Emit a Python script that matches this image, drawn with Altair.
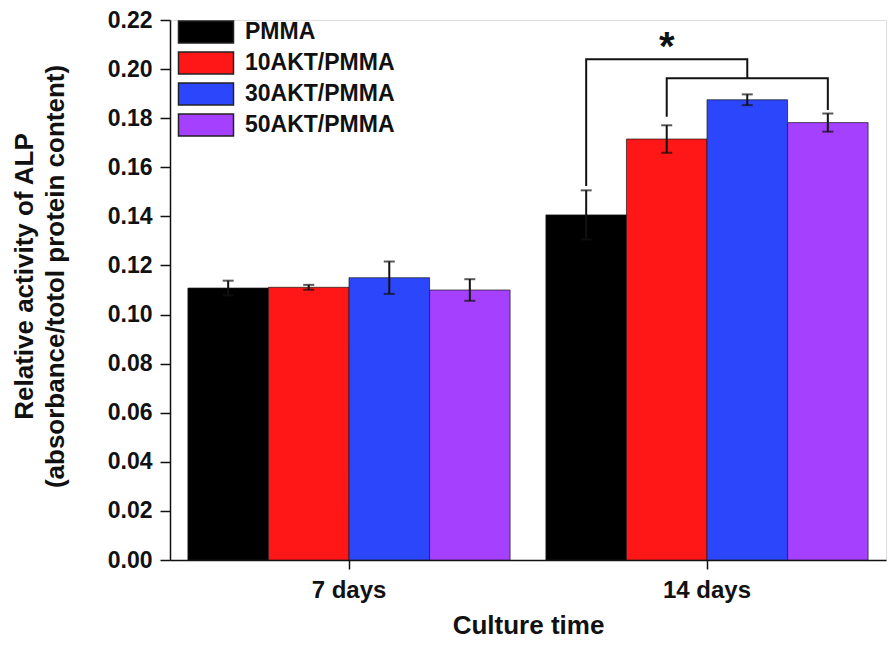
import altair as alt
import pandas as pd

# ---- data ----
days = ["7 days", "14 days"]
groups = ["PMMA", "10AKT/PMMA", "30AKT/PMMA", "50AKT/PMMA"]
colors = ["#000000", "#ff1616", "#2b46fb", "#a640ff"]

mean_7 = [0.1108, 0.1111, 0.1150, 0.1100]
err_7 = [0.0030, 0.0010, 0.0066, 0.0044]
mean_14 = [0.1406, 0.1715, 0.1875, 0.1782]
err_14 = [0.0100, 0.0056, 0.0022, 0.0037]

# significance brackets (14 days)
brk_id = [1, 1, 1, 1, 2, 2, 2, 2]
brk_order = [0, 1, 2, 3, 0, 1, 2, 3]
brk_group = ["PMMA", "PMMA", "30AKT/PMMA", "30AKT/PMMA",
             "10AKT/PMMA", "10AKT/PMMA", "50AKT/PMMA", "50AKT/PMMA"]
brk_y = [0.1524, 0.2040, 0.2040, 0.1963, 0.1806, 0.1963, 0.1963, 0.1833]

star_day = ["14 days"]
star_group = ["10AKT/PMMA"]
star_y = [0.2094]
star_text = ["*"]

y_ticks = [round(i * 0.01, 2) for i in range(0, 23)]

FONT = "Liberation Sans"

rows = []
for d, means, errs in [(days[0], mean_7, err_7), (days[1], mean_14, err_14)]:
    for g, m, e in zip(groups, means, errs):
        rows.append({"day": d, "group": g, "mean": m, "lo": m - e, "hi": m + e})
df = pd.DataFrame(rows)

brk = pd.DataFrame({"day": "14 days", "id": brk_id, "ord": brk_order,
                    "group": brk_group, "y": brk_y})
star = pd.DataFrame({"day": star_day, "group": star_group, "y": star_y, "t": star_text})

x_enc = alt.X("day:N", sort=days,
              scale=alt.Scale(domain=days, paddingInner=0.1, paddingOuter=0.05),
              axis=alt.Axis(title="Culture time", labelAngle=0, labelFont=FONT,
                            labelFontSize=24, labelFontWeight="bold", labelColor="#111",
                            labelPadding=9, tickSize=9, tickColor="#111", tickWidth=1.5,
                            domainColor="#111", domainWidth=1.5,
                            titleFont=FONT, titleFontSize=26, titleFontWeight="bold",
                            titleColor="#111", titlePadding=10))
xo_enc = alt.XOffset("group:N", sort=groups,
                     scale=alt.Scale(domain=groups, paddingInner=0, paddingOuter=0))
y_scale = alt.Scale(domain=[0, 0.22], nice=False)

bars = alt.Chart(df).mark_bar(stroke="#1a1a1a", strokeWidth=1, strokeOpacity=0.7).encode(
    x=x_enc,
    xOffset=xo_enc,
    y=alt.Y("mean:Q", scale=y_scale,
            axis=alt.Axis(
                title=["Relative activity of ALP", "(absorbance/totol protein content)"],
                values=y_ticks,
                labelExpr="round(datum.value*100) % 2 == 0 ? format(datum.value, '.2f') : ''",
                tickSize={"condition": {"test": "round(datum.value*100) % 2 == 0", "value": 10}, "value": 5},
                labelFont=FONT, labelFontSize=23, labelFontWeight="bold", labelColor="#111",
                labelPadding=8, tickColor="#111", tickWidth=1.5,
                domainColor="#111", domainWidth=1.5, grid=False,
                titleFont=FONT, titleFontSize=26, titleFontWeight="bold", titleColor="#111",
                titlePadding=39, titleLineHeight=31, titleY=256)),
    color=alt.Color("group:N", sort=groups,
                    scale=alt.Scale(domain=groups, range=colors),
                    legend=alt.Legend(title=None, orient="none", legendX=24, legendY=0,
                                      symbolType="M-2.5,-1H2.5V1H-2.5Z", symbolSize=484,
                                      symbolStrokeColor="#222", symbolStrokeWidth=1.5,
                                      symbolOpacity=1,
                                      labelFont=FONT, labelFontSize=23, labelFontWeight="bold",
                                      labelColor="#111", labelOffset=27, rowPadding=3,
                                      labelLimit=400)),
)

err_rule = alt.Chart(df).mark_rule(color="#111", strokeWidth=2).encode(
    x=alt.X("day:N", sort=days), xOffset=alt.XOffset("group:N", sort=groups),
    y=alt.Y("lo:Q"), y2="hi:Q")

caps_hi = alt.Chart(df).mark_tick(color="#111", thickness=2, size=11).encode(
    x=alt.X("day:N", sort=days), xOffset=alt.XOffset("group:N", sort=groups),
    y=alt.Y("hi:Q"))
caps_lo = alt.Chart(df).mark_tick(color="#111", thickness=2, size=11).encode(
    x=alt.X("day:N", sort=days), xOffset=alt.XOffset("group:N", sort=groups),
    y=alt.Y("lo:Q"))

brackets = alt.Chart(brk).mark_line(color="#111", strokeWidth=2, interpolate="linear").encode(
    x=alt.X("day:N", sort=days), xOffset=alt.XOffset("group:N", sort=groups),
    y=alt.Y("y:Q"), detail="id:N", order="ord:Q")

stars = alt.Chart(star).mark_text(font=FONT, fontSize=40, fontWeight="bold", color="#111",
                                  baseline="middle", dy=2).encode(
    x=alt.X("day:N", sort=days), xOffset=alt.XOffset("group:N", sort=groups),
    y=alt.Y("y:Q"), text="t:N")

chart = alt.layer(bars, err_rule, caps_hi, caps_lo, brackets, stars).properties(
    width=716, height=540,
    autosize=alt.AutoSizeParams(type="none"),
    padding={"left": 162, "top": 12, "right": 1, "bottom": 80},
).configure_view(stroke="#111", strokeWidth=1.5).configure(background="white")

chart.save("out.html", embed_options={"renderer": "svg", "actions": False})
